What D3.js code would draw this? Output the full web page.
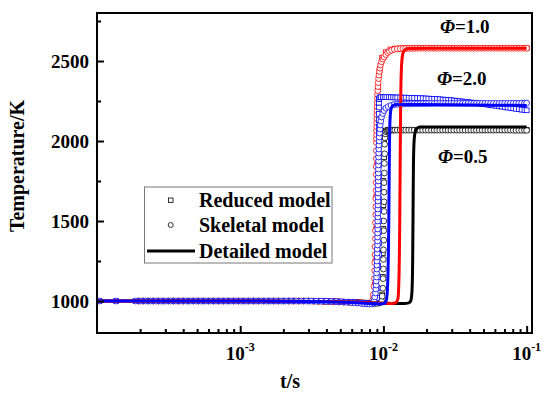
<!DOCTYPE html>
<html><head><meta charset="utf-8">
<script src="https://cdn.jsdelivr.net/npm/d3@7"></script>
<style>
body{margin:0;background:#fff;}
svg{display:block;}
text{font-family:"Liberation Serif","Times New Roman",serif;font-weight:bold;fill:#000;}
</style>
</head><body><svg id="chart" width="550" height="398"></svg>
<script>
// ---------------- DATA ----------------
const xTickValues = [1e-3, 1e-2, 1e-1];
const xTickExponents = ["-3", "-2", "-1"];
const yTickValues = [1000, 1500, 2000, 2500];
const yMinorTickValues = [1250, 1750, 2250, 2750];
const phiLabels = ["Φ=1.0", "Φ=2.0", "Φ=0.5"];
const legendLabels = ["Reduced model", "Skeletal model", "Detailed model"];

// solver output times used by the marker series
const tPreA = [1.04e-4,1.36e-4,1.86e-4,2.02e-4,2.19e-4,2.37e-4,2.57e-4,2.79e-4,3.02e-4,3.27e-4,
  3.55e-4,3.85e-4,4.17e-4,4.52e-4,4.9e-4,5.31e-4,5.76e-4,6.24e-4,6.77e-4,7.34e-4,
  7.95e-4,8.62e-4,9.35e-4,1.01e-3,1.1e-3,1.19e-3,1.29e-3,1.4e-3,1.52e-3,1.64e-3,
  1.78e-3,1.93e-3,2.09e-3,2.27e-3,2.46e-3,2.66e-3,2.89e-3,3.13e-3,3.39e-3,3.68e-3,
  3.98e-3,4.32e-3,4.68e-3,5.07e-3,5.5e-3,5.96e-3,6.3e-3,6.65e-3,7.0e-3,7.35e-3,
  7.7e-3,8.0e-3];
const tPreB = [1.0e-4,1.95e-4,2.1e-4,2.28e-4,2.47e-4,2.68e-4,2.9e-4,3.15e-4,3.41e-4,3.7e-4,
  4.0e-4,4.34e-4,4.7e-4,5.1e-4,5.53e-4,6.0e-4,6.5e-4,7.05e-4,7.64e-4,8.28e-4,
  8.98e-4,9.73e-4,1.05e-3,1.14e-3,1.24e-3,1.34e-3,1.46e-3,1.58e-3,1.71e-3,1.85e-3,
  2.01e-3,2.18e-3,2.36e-3,2.56e-3,2.77e-3,3.0e-3,3.26e-3,3.53e-3,3.83e-3,4.15e-3,
  4.5e-3,4.88e-3,5.29e-3,5.73e-3,6.1e-3,6.5e-3,6.9e-3,7.3e-3,7.6e-3,7.9e-3];
const tPost = [0.0125,0.0131,0.0137,0.0143,0.015,0.0157,0.0164,0.0172,0.018,0.0188,
  0.0197,0.0206,0.0216,0.0226,0.0236,0.0247,0.0259,0.0271,0.0283,0.0296,
  0.031,0.0325,0.034,0.0356,0.0372,0.039,0.0408,0.0427,0.0446,0.0467,
  0.0489,0.0512,0.0535,0.056,0.0586,0.0614,0.0642,0.0672,0.0703,0.0736,
  0.077,0.0806,0.0843,0.0882,0.0923,0.0966,0.1];

// ---- Φ = 2.0 (blue) ----
const skelPre20 = [1000,1000,1000,1000,1000,1000,1000,1000,1000,1000,
  1000,1000,1000,1000,1000,1000,1000,1000,1000,1000,
  1000,1000,1000,1000,1000,1000,1000,1000,1000,1000,
  1000,1000,1000,1000,1000,1000,1000,1000,999,999,
  998,997,996,995,993,991,989,987,985,983,982,981];
const skelRise20 = [[0.0083,982],[0.0085,988],[0.0086,1000],[0.0087,1025],[0.0088,1050],[0.00885,1075],
  [0.0089,1100],[0.0089,1125],[0.00895,1150],[0.00895,1175],[0.009,1200],[0.009,1225],[0.009,1250],
  [0.00905,1275],[0.00905,1300],[0.00905,1325],[0.0091,1350],[0.0091,1375],[0.0091,1400],[0.0091,1425],
  [0.00912,1450],[0.00912,1475],[0.00912,1500],[0.00914,1525],[0.00914,1550],[0.00914,1575],
  [0.00916,1600],[0.00916,1625],[0.00916,1650],[0.00918,1675],[0.00918,1700],[0.00918,1725],
  [0.0092,1750],[0.0092,1775],[0.0092,1800],[0.00922,1825],[0.00922,1850],[0.00924,1875],[0.00924,1900],
  [0.00926,1925],[0.00928,1950],[0.0093,1975],[0.00932,2000],[0.00935,2025],[0.0094,2050],[0.00945,2075],
  [0.0095,2100],[0.0096,2125],[0.0097,2150],[0.0099,2172],[0.0101,2190],[0.0104,2205],[0.0108,2215],
  [0.0113,2222],[0.0119,2228]];
const skelPost20 = [2230,2231,2231,2232,2232,2233,2233,2233,2234,2234,
  2234,2234,2235,2235,2235,2235,2235,2235,2235,2235,
  2235,2235,2235,2235,2235,2235,2235,2235,2235,2235,
  2235,2235,2235,2235,2235,2235,2235,2235,2235,2235,
  2236,2236,2236,2236,2237,2237,2237];
const redPre20 = [1000,1000,1000,1000,1000,1000,1000,1000,1000,1000,
  1000,1000,1000,1000,1000,1000,1000,1000,1000,1000,
  1000,1000,1000,1000,1000,1000,1000,1000,1000,1000,
  1000,1000,1000,1000,1000,1000,1000,1000,1000,999,
  999,998,997,996,995,994,992,990,988,987,986,985];
const redRise20 = [[0.0085,988],[0.0088,995],[0.009,1020],[0.0091,1080],[0.0092,1150],[0.0092,1220],
  [0.0093,1290],[0.0093,1360],[0.0093,1430],[0.0093,1500],[0.0093,1570],[0.0093,1640],[0.0093,1710],
  [0.0093,1780],[0.0093,1850],[0.0093,1920],[0.0093,1990],[0.0093,2050],[0.0093,2090],[0.0093,2130],
  [0.0093,2170],[0.0093,2210],[0.0093,2240],[0.0093,2262],[0.0094,2272],[0.0096,2274],[0.0099,2274],
  [0.0102,2274],[0.0105,2274],[0.0109,2274],[0.0113,2273],[0.0117,2273],[0.0121,2272]];
const redPost20 = [2272,2272,2271,2271,2270,2270,2269,2268,2268,2267,
  2266,2265,2264,2263,2262,2261,2259,2258,2256,2255,
  2253,2251,2249,2247,2245,2243,2241,2239,2237,2234,
  2232,2230,2227,2225,2222,2220,2217,2215,2212,2209,
  2207,2204,2201,2199,2196,2194,2192];
const detailed20 = [[1e-4,1000],[1e-3,1000],[2e-3,999],[4e-3,996],[6e-3,991],[8e-3,985],[0.0095,982],
  [0.0102,986],[0.0105,1010],[0.0107,1100],[0.0109,1500],[0.0110,1900],[0.0111,2120],[0.0113,2200],
  [0.0117,2222],[0.0125,2228],[0.015,2228],[0.03,2226],[0.06,2224],[0.1,2222]];

// ---- Φ = 1.0 (red) ----
const skelPre10 = [1000,1000,1000,1000,1000,1000,1000,1000,1000,1000,
  1000,1000,1000,1000,1000,1000,1000,1000,1000,1000,
  1000,1000,1000,1000,1000,1000,1000,1000,1000,1000,
  1000,1000,1000,1000,1000,1000,999,999,998,997,
  996,995,994,992,991,989,988,987,986,985];
const skelRise10 = [[0.0081,985],[0.0083,990],[0.0084,1005],[0.0085,1040],[0.0086,1090],[0.00865,1140],
  [0.0087,1190],[0.0087,1240],[0.00875,1290],[0.00875,1340],[0.0088,1390],[0.0088,1440],[0.0088,1490],
  [0.00885,1540],[0.00885,1590],[0.00885,1640],[0.0089,1690],[0.0089,1740],[0.0089,1790],[0.0089,1840],
  [0.00892,1890],[0.00892,1940],[0.00893,1990],[0.00894,2015],[0.00895,2040],[0.00896,2065],
  [0.00897,2090],[0.00898,2115],[0.009,2140],[0.009,2165],[0.00902,2190],[0.00904,2215],[0.00906,2240],
  [0.00908,2265],[0.0091,2290],[0.00913,2315],[0.00916,2340],[0.0092,2365],[0.00925,2390],[0.0093,2412],
  [0.00937,2435],[0.00945,2455],[0.00955,2475],[0.0097,2495],[0.0099,2512],[0.0101,2525],[0.0104,2540],
  [0.0107,2552],[0.011,2560],[0.0114,2567],[0.0119,2573]];
const skelPost10 = [2576,2577,2578,2578,2579,2579,2579,2580,2580,2580,
  2580,2580,2580,2580,2580,2580,2580,2580,2580,2580,
  2580,2580,2580,2580,2580,2580,2580,2580,2580,2580,
  2580,2580,2580,2580,2580,2580,2580,2580,2580,2580,
  2580,2580,2580,2580,2580,2580,2580];
const redPre10 = [1000,1000,1000,1000,1000,1000,1000,1000,1000,1000,
  1000,1000,1000,1000,1000,1000,1000,1000,1000,1000,
  1000,1000,1000,1000,1000,1000,1000,1000,1000,1000,
  1000,1000,1000,1000,1000,1000,1000,999,998,998,
  997,996,995,994,993,992,990,989,988,987];
const redRise10 = [[0.0082,988],[0.0085,1010],[0.0087,1100],[0.0088,1250],[0.0089,1450],[0.0089,1650],
  [0.009,1850],[0.009,2050],[0.0091,2200],[0.0092,2330],[0.0094,2440],[0.0098,2520],[0.0104,2555],
  [0.0112,2572],[0.012,2577]];
const redPost10 = [2577,2578,2579,2579,2580,2580,2580,2580,2581,2581,
  2581,2581,2581,2581,2581,2581,2581,2581,2581,2581,
  2581,2581,2581,2581,2581,2581,2581,2581,2581,2581,
  2581,2581,2581,2581,2581,2581,2581,2581,2581,2581,
  2581,2581,2581,2581,2581,2581,2581];
const detailed10 = [[1e-4,1000],[1e-3,1000],[2e-3,999],[4e-3,997],[6e-3,993],[8e-3,989],[0.010,986],
  [0.0115,985],[0.0122,990],[0.0126,1010],[0.0128,1100],[0.0130,1500],[0.0131,1900],[0.0132,2250],
  [0.0134,2480],[0.0137,2550],[0.0142,2572],[0.015,2578],[0.02,2580],[0.05,2580],[0.1,2580]];

// ---- Φ = 0.5 (black) ----
const skelPre05 = [1000,1000,1000,1000,1000,1000,1000,1000,1000,1000,
  1000,1000,1000,1000,1000,1000,1000,1000,1000,1000,
  1000,1000,1000,1000,1000,1000,1000,1000,1000,1000,
  1000,1000,1000,1000,1000,1000,999,998,997,996,
  995,994,993,992,991,990,989,988,987,986];
const skelRise05 = [[0.0082,986],[0.0086,985],[0.009,985],[0.0094,988],[0.0097,1000],[0.0098,1030],
  [0.0099,1080],[0.00995,1140],[0.01,1200],[0.01,1260],[0.01,1320],[0.01005,1380],[0.01005,1440],
  [0.01005,1500],[0.0101,1560],[0.0101,1620],[0.0101,1680],[0.0101,1740],[0.01015,1800],[0.01015,1860],
  [0.0102,1920],[0.0102,1980],[0.01025,2020],[0.0103,2045],[0.0104,2058],[0.0106,2064],[0.0108,2067],
  [0.011,2068],[0.0112,2068],[0.0114,2068],[0.0117,2068],[0.012,2068]];
const skelPost05 = [2068,2068,2068,2068,2068,2068,2068,2068,2068,2068,
  2068,2068,2068,2068,2068,2068,2068,2068,2068,2068,
  2068,2068,2068,2068,2068,2068,2068,2068,2068,2068,
  2068,2068,2068,2068,2068,2068,2068,2068,2068,2068,
  2068,2067,2067,2067,2067,2067,2067];
const redPre05 = [1000,1000,1000,1000,1000,1000,1000,1000,1000,1000,
  1000,1000,1000,1000,1000,1000,1000,1000,1000,1000,
  1000,1000,1000,1000,1000,1000,1000,1000,1000,1000,
  1000,1000,1000,1000,1000,1000,999,999,998,997,
  996,995,994,993,992,991,990,989,988,987];
const redRise05 = [[0.0085,985],[0.0092,986],[0.0096,995],[0.0098,1040],[0.0099,1150],[0.0099,1300],
  [0.01,1450],[0.01,1600],[0.01,1750],[0.0101,1900],[0.0101,2000],[0.0102,2050],[0.0104,2065],
  [0.0108,2070],[0.0113,2070],[0.012,2070]];
const redPost05 = [2070,2070,2070,2070,2070,2070,2070,2070,2070,2070,
  2070,2070,2070,2070,2070,2070,2070,2070,2070,2070,
  2070,2070,2070,2070,2070,2070,2070,2070,2070,2070,
  2070,2070,2070,2070,2070,2070,2070,2070,2070,2070,
  2070,2070,2070,2070,2070,2070,2070];
const detailed05 = [[1e-4,1000],[5e-4,1000],[1e-3,1000],[2e-3,999],[4e-3,997],[6e-3,993],[8e-3,989],
  [0.010,986],[0.012,984],[0.014,984],[0.0150,988],[0.0155,1000],[0.0158,1050],[0.0160,1250],
  [0.0161,1550],[0.0162,1850],[0.0164,2010],[0.0167,2060],[0.0172,2080],[0.018,2087],[0.02,2088],
  [0.03,2088],[0.05,2088],[0.1,2088]];

// ---------------- BUILD ----------------
const zip = (ts, vs) => ts.map((t, i) => [t, vs[i]]);
const groups = [
  {color:"#000000", reduced: zip(tPreB, redPre05).concat(redRise05, zip(tPost, redPost05)),
   skeletal: zip(tPreB, skelPre05).concat(skelRise05, zip(tPost, skelPost05)), detailed: detailed05},
  {color:"#ff0000", reduced: zip(tPreB, redPre10).concat(redRise10, zip(tPost, redPost10)),
   skeletal: zip(tPreB, skelPre10).concat(skelRise10, zip(tPost, skelPost10)), detailed: detailed10},
  {color:"#0000ff", reduced: zip(tPreA, redPre20).concat(redRise20, zip(tPost, redPost20)),
   skeletal: zip(tPreA, skelPre20).concat(skelRise20, zip(tPost, skelPost20)), detailed: detailed20}
];

const W = 550, H = 398;
const m = {left: 97, right: 18, top: 13, bottom: 65};
const svg = d3.select("#chart");
const x = d3.scaleLog().domain([1e-4, 0.109]).range([m.left, W - m.right]);
const y = d3.scaleLinear().domain([800, 2800]).range([H - m.bottom, m.top]);

svg.append("defs").append("clipPath").attr("id", "clip")
  .append("rect").attr("x", m.left).attr("y", m.top)
  .attr("width", W - m.left - m.right).attr("height", H - m.top - m.bottom);

const plot = svg.append("g").attr("clip-path", "url(#clip)");

// markers
groups.forEach(g => {
  plot.append("g").selectAll("rect").data(g.reduced).join("rect")
    .attr("x", d => x(d[0]) - 2.4).attr("y", d => y(d[1]) - 2.4)
    .attr("width", 4.8).attr("height", 4.8)
    .attr("fill", "#fff").attr("stroke", g.color).attr("stroke-width", 0.8);
  plot.append("g").selectAll("circle").data(g.skeletal).join("circle")
    .attr("cx", d => x(d[0])).attr("cy", d => y(d[1])).attr("r", 2.9)
    .attr("fill", "#fff").attr("stroke", g.color).attr("stroke-width", 0.8);
});

// detailed lines
const line = d3.line().x(d => x(d[0])).y(d => y(d[1])).curve(d3.curveMonotoneX);
groups.forEach(g => {
  plot.append("path").datum(g.detailed).attr("d", line)
    .attr("fill", "none").attr("stroke", g.color).attr("stroke-width", 3);
});

// axes (inward ticks)
const xMinor = [];
[1e-4, 1e-3, 1e-2].forEach(dec => { for (let k = 2; k <= 9; k++) xMinor.push(dec * k); });
const axStyle = sel => { sel.select(".domain").remove(); sel.selectAll("line").attr("stroke", "#000").attr("stroke-width", 2); };

svg.append("g").attr("transform", `translate(0,${H - m.bottom})`)
  .call(d3.axisBottom(x).tickValues(xMinor).tickSize(-4).tickFormat(""))
  .call(axStyle);
svg.append("g").attr("transform", `translate(0,${H - m.bottom})`)
  .call(d3.axisBottom(x).tickValues(xTickValues).tickSize(-7).tickFormat(""))
  .call(axStyle);
svg.append("g").attr("transform", `translate(${m.left},0)`)
  .call(d3.axisLeft(y).tickValues(yMinorTickValues).tickSize(-4).tickFormat(""))
  .call(axStyle);
svg.append("g").attr("transform", `translate(${m.left},0)`)
  .call(d3.axisLeft(y).tickValues(yTickValues).tickSize(-7).tickFormat(""))
  .call(axStyle);

// frame
svg.append("rect").attr("x", m.left).attr("y", m.top)
  .attr("width", W - m.left - m.right).attr("height", H - m.top - m.bottom)
  .attr("fill", "none").attr("stroke", "#000").attr("stroke-width", 2);

// tick labels
yTickValues.forEach(v => {
  svg.append("text").attr("x", 89).attr("y", y(v) + 6.5)
    .attr("text-anchor", "end").attr("font-size", 19).text(v);
});
xTickValues.forEach((v, i) => {
  const t = svg.append("text").attr("x", x(v)).attr("y", 360)
    .attr("text-anchor", "middle").attr("font-size", 19);
  t.append("tspan").text("10");
  t.append("tspan").attr("dy", -9).attr("font-size", 12).text(xTickExponents[i]);
});

// axis titles
svg.append("text").attr("x", 290).attr("y", 388).attr("text-anchor", "middle")
  .attr("font-size", 20).text("t/s");
svg.append("text").attr("transform", "translate(24,166) rotate(-90)")
  .attr("text-anchor", "middle").attr("font-size", 20).text("Temperature/K");

// phi labels
const phiPos = [[440, 33], [437, 85], [438, 163]];
phiLabels.forEach((s, i) => {
  const t = svg.append("text").attr("x", phiPos[i][0]).attr("y", phiPos[i][1]).attr("font-size", 19);
  t.append("tspan").attr("font-style", "italic").text(s.slice(0, 1));
  t.append("tspan").text(s.slice(1));
});

// legend
const lg = svg.append("g");
lg.append("rect").attr("x", 144.5).attr("y", 187).attr("width", 187.5).attr("height", 76)
  .attr("fill", "#fff").attr("stroke", "#777").attr("stroke-width", 1);
lg.append("rect").attr("x", 168.5).attr("y", 198).attr("width", 4.5).attr("height", 4.5)
  .attr("fill", "#fff").attr("stroke", "#000").attr("stroke-width", 0.8);
lg.append("circle").attr("cx", 170.7).attr("cy", 225).attr("r", 2.5)
  .attr("fill", "#fff").attr("stroke", "#000").attr("stroke-width", 0.8);
lg.append("line").attr("x1", 147).attr("x2", 195).attr("y1", 251).attr("y2", 251)
  .attr("stroke", "#000").attr("stroke-width", 3);
const legendY = [207, 232, 258];
legendLabels.forEach((s, i) => {
  lg.append("text").attr("x", 199).attr("y", legendY[i]).attr("font-size", 20).text(s);
});
</script></body></html>
